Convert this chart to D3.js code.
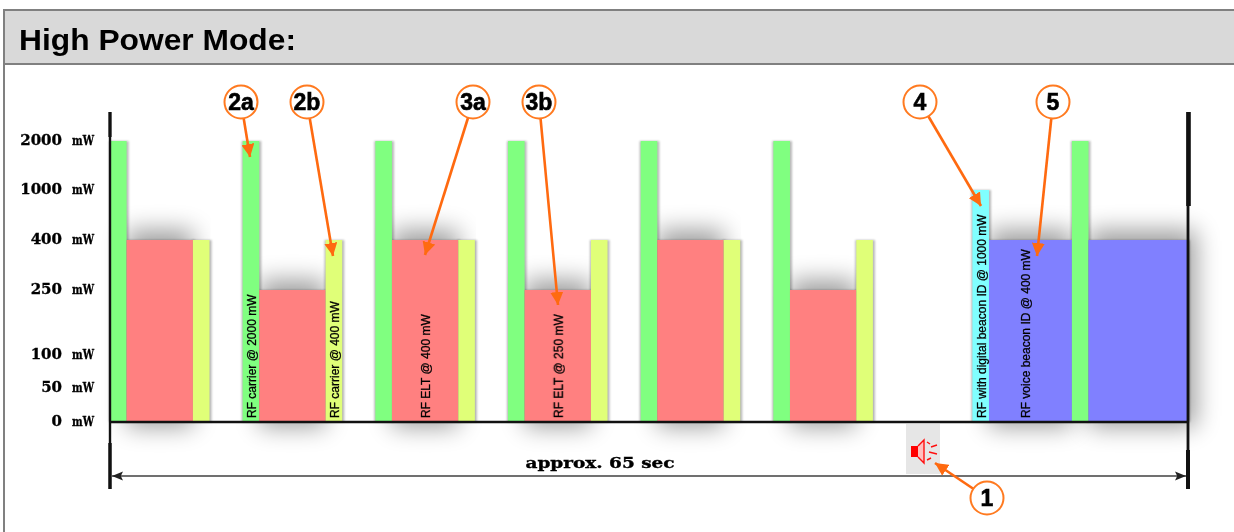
<!DOCTYPE html>
<html><head><meta charset="utf-8">
<script src="https://cdn.jsdelivr.net/npm/d3@7"></script>
<style>html,body{margin:0;padding:0;background:#fff}svg{display:block}</style></head>
<body><svg id="c" width="1234" height="532"></svg>
<script>
// ---- data ----
const powerTicks = [0, 50, 100, 250, 400, 1000, 2000];
const powerUnit = "mW";
const title = "High Power Mode:";
const durationLabel = "approx. 65 sec";
const totalSeconds = 65;
const barStarts   = [0,1,5, 8,9,13, 16,17,21, 24,25,29, 32,33,37, 40,41,45, 52,53,58,59];
const barLengths  = [1,4,1, 1,4,1,  1,4,1,   1,4,1,    1,4,1,    1,4,1,    1,5,1,6];
const barPowers   = [2000,400,400, 2000,250,400, 2000,400,400, 2000,250,400, 2000,400,400, 2000,250,400, 1000,400,2000,400];
const barKindIdx  = [0,1,2, 0,1,2, 0,1,2, 0,1,2, 0,1,2, 0,1,2, 3,4,0,4];
const kindColours = ["#80ff80","#ff8080","#e0ff78","#80ffff","#8080ff"];
const barTexts = ["RF carrier @ 2000 mW","RF carrier @ 400 mW","RF ELT @ 400 mW","RF ELT @ 250 mW","RF with digital beacon ID @ 1000 mW","RF voice beacon ID @ 400 mW"];
const barTextSeconds = [8.5,13.5,19,27,52.5,55.2];
const calloutLabels = ["1","2a","2b","3a","3b","4","5"];

// ---- layout ----
const W=1234,H=532;
const L={x0:110,x1:1188,base:422,dim:476};
const calloutGeom={ "1":[987,498,935,463],"2a":[241,102,250,157],"2b":[307,102,333,256],"3a":[473,102,425,255],
  "3b":[539,102,558,305],"4":[920,102,981,206],"5":[1053,102,1037,256]};

const x=d3.scaleLinear().domain([0,totalSeconds]).range([L.x0,L.x1]);
const y=d3.scaleLinear().domain(powerTicks).range([422,388,355,290,240,190,141]);

const svg=d3.select("#c");
const defs=svg.append("defs");
[["bWide",12],["bNarrow",1.3],["bText",0.55],["bSoft",0.35]].forEach(([id,s])=>{
  defs.append("filter").attr("id",id).attr("filterUnits","userSpaceOnUse").attr("x",0).attr("y",0).attr("width",W).attr("height",H)
    .append("feGaussianBlur").attr("stdDeviation",s);
});
const m=defs.append("marker").attr("id","ah").attr("viewBox","0 0 10 10").attr("refX",10).attr("refY",5)
  .attr("markerUnits","userSpaceOnUse").attr("markerWidth",13).attr("markerHeight",13).attr("orient","auto");
m.append("path").attr("d","M0,0L10,5L0,10Z").attr("fill","#ff6a10");
const k=defs.append("marker").attr("id","dh").attr("viewBox","0 0 10 10").attr("refX",10).attr("refY",5)
  .attr("markerUnits","userSpaceOnUse").attr("markerWidth",11).attr("markerHeight",11).attr("orient","auto-start-reverse");
k.append("path").attr("d","M0,1L10,5L0,9L2,5Z").attr("fill","#222");

// panel
svg.append("rect").attr("x",4).attr("y",10).attr("width",W+10).attr("height",54).attr("fill","#d9d9d9").attr("stroke","#808080").attr("stroke-width",2);
svg.append("line").attr("x1",4).attr("x2",4).attr("y1",10).attr("y2",H).attr("stroke","#808080").attr("stroke-width",2);
svg.append("text").attr("x",19).attr("y",49.5).text(title).attr("font-family","Liberation Sans").attr("font-weight",700).attr("font-size",29.5)
  .attr("textLength",277).attr("lengthAdjust","spacingAndGlyphs").attr("fill","#000").attr("filter","url(#bSoft)");

const bars=barStarts.map((s,i)=>({s,len:barLengths[i],p:barPowers[i],kind:barKindIdx[i]}));
const shadowG=svg.append("g");
const wide=bars.filter(d=>d.len>1);
shadowG.selectAll("rect.w").data(wide).join("rect").attr("class","w")
  .attr("x",d=>x(d.s)).attr("width",d=>x(d.s+d.len)-x(d.s)+(d.s+d.len>=totalSeconds?8:0))
  .attr("y",d=>y(d.p)-10).attr("height",d=>L.base+15-y(d.p)).attr("fill","#000").attr("opacity",.38).attr("filter","url(#bWide)");
// gaps between pulses stay white above the baseline
const gaps=bars.slice(1).map((d,i)=>[bars[i].s+bars[i].len,d.s]).filter(g=>g[1]>g[0]);
shadowG.selectAll("rect.g").data(gaps).join("rect").attr("class","g")
  .attr("x",d=>x(d[0])+1).attr("width",d=>x(d[1])-x(d[0])-2).attr("y",y(2000)-2).attr("height",L.base-y(2000)+2).attr("fill","#fff");
shadowG.selectAll("rect.n").data(bars).join("rect").attr("class","n")
  .attr("x",d=>x(d.s)-1).attr("width",d=>x(d.s+d.len)-x(d.s)+3)
  .attr("y",d=>y(d.p)).attr("height",d=>L.base-y(d.p)).attr("fill","#000").attr("opacity",.28).attr("filter","url(#bNarrow)");

svg.append("g").attr("filter","url(#bSoft)").selectAll("rect").data(bars).join("rect")
  .attr("x",d=>x(d.s)).attr("width",d=>x(d.s+d.len)-x(d.s))
  .attr("y",d=>y(d.p)).attr("height",d=>L.base-y(d.p)).attr("fill",d=>kindColours[d.kind]);

// axes: [x1,x2,y1,y2,width]
const axisLines=[[110,110,112,489,2.4],[110,110,112,137,3.2],[110,110,443,489,3.4],
  [1188,1188,112,489,2.8],[1188.5,1188.5,112,206,4.6],[1188,1188,450,489,4],[L.x0,L.x1,L.base,L.base,2.6]];
svg.append("g").selectAll("line").data(axisLines).join("line")
  .attr("x1",d=>d[0]).attr("x2",d=>d[1]).attr("y1",d=>d[2]).attr("y2",d=>d[3]).attr("stroke","#111").attr("stroke-width",d=>d[4]);
svg.append("line").attr("x1",L.x0+2).attr("x2",L.x1-2).attr("y1",L.dim).attr("y2",L.dim)
  .attr("stroke","#707070").attr("stroke-width",2).attr("marker-start","url(#dh)").attr("marker-end","url(#dh)");

// tick labels
const tg=svg.append("g").attr("filter","url(#bText)").attr("fill","#000").attr("stroke","#000").attr("stroke-width",.35);
tg.selectAll("text.v").data(powerTicks).join("text").attr("class","v")
  .attr("x",62).attr("y",d=>y(d)+4).attr("text-anchor","end")
  .attr("font-family","DejaVu Serif").attr("font-weight",700).attr("font-size",15).text(d=>d);
tg.selectAll("text.u").data(powerTicks).join("text").attr("class","u")
  .attr("x",72).attr("y",d=>y(d)+4).attr("font-family","DejaVu Serif").attr("font-weight",700).attr("font-size",13)
  .attr("textLength",22).attr("lengthAdjust","spacingAndGlyphs").text(powerUnit);
tg.append("text").attr("x",600).attr("y",468).attr("text-anchor","middle").attr("font-family","DejaVu Serif").attr("font-weight",700)
  .attr("font-size",14).attr("textLength",149).attr("lengthAdjust","spacingAndGlyphs").text(durationLabel);

// vertical labels
svg.append("g").attr("filter","url(#bSoft)").selectAll("text").data(barTexts).join("text")
  .attr("transform",(d,i)=>`translate(${x(barTextSeconds[i])+5},418) rotate(-90)`)
  .attr("font-family","Liberation Sans").attr("font-size",12).attr("stroke","#000").attr("stroke-width",.3).attr("fill","#000").text(d=>d);

// speaker icon
const sp=svg.append("g").attr("filter","url(#bSoft)");
sp.append("rect").attr("x",906).attr("y",424).attr("width",34).attr("height",50).attr("fill","#e6e6e6");
sp.append("path").attr("d","M911,446h7v11h-7Z").attr("fill","#ff0000");
sp.append("path").attr("d","M918,446L924,440V463L918,457").attr("fill","#ffc0c0").attr("stroke","#ff1010").attr("stroke-width",1.4);
sp.append("path").attr("d","M927,442l3,2M931,447l6,-2M929,452l8,2M927,460l4,-2").attr("stroke","#ff1010").attr("stroke-width",1.4).attr("fill","none");

// callouts
const cg=svg.append("g").selectAll("g").data(calloutLabels).join("g");
cg.append("line").attr("x1",d=>calloutGeom[d][0]).attr("y1",d=>calloutGeom[d][1]).attr("x2",d=>calloutGeom[d][2]).attr("y2",d=>calloutGeom[d][3])
  .attr("stroke","#ff6a10").attr("stroke-width",2.6).attr("marker-end","url(#ah)");
cg.append("circle").attr("cx",d=>calloutGeom[d][0]).attr("cy",d=>calloutGeom[d][1]).attr("r",16.5).attr("fill","#fff").attr("stroke","#ff7a20").attr("stroke-width",2);
cg.append("text").attr("x",d=>calloutGeom[d][0]).attr("y",d=>calloutGeom[d][1]+8).attr("text-anchor","middle")
  .attr("font-family","Liberation Sans").attr("font-weight",700).attr("font-size",23).attr("stroke","#000").attr("stroke-width",.6).attr("fill","#000").attr("filter","url(#bSoft)").text(d=>d);
</script></body></html>
